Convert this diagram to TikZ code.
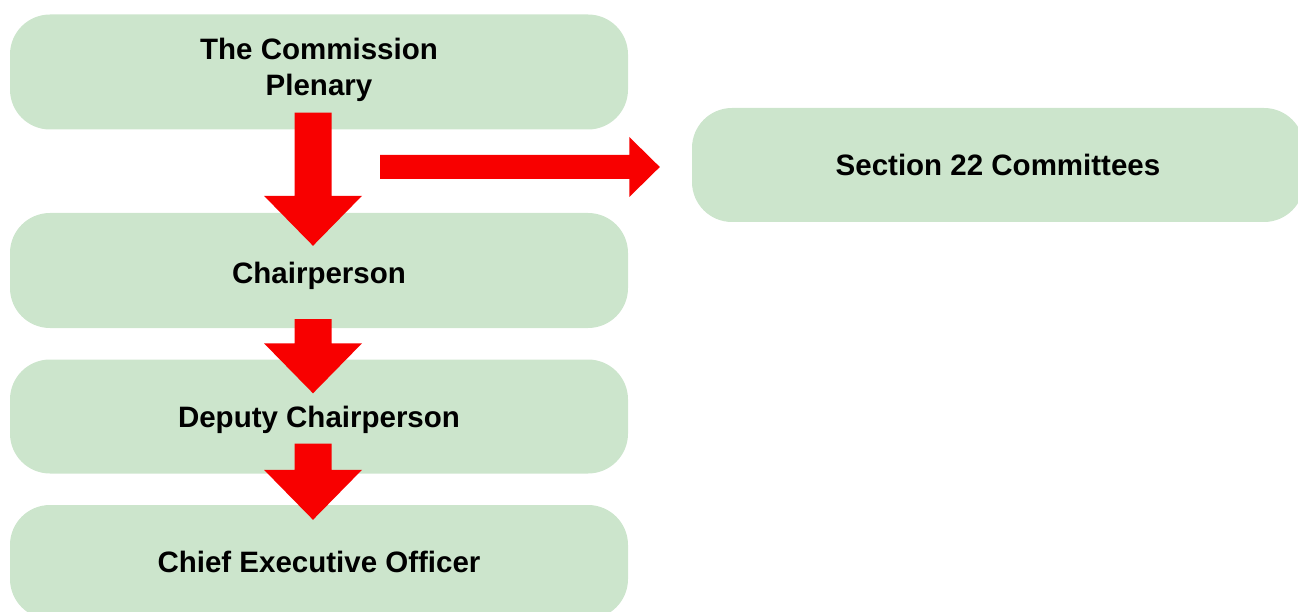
\documentclass[tikz,border=0pt]{standalone}
\usepackage{fontspec}
\setmainfont{Liberation Sans}
\usetikzlibrary{calc}
\definecolor{boxgreen}{RGB}{204,229,204}
\definecolor{arrowred}{RGB}{248,0,0}
\newcommand\blockarrowdown[2]{%
  \fill[arrowred] let \p1=(#1), \p2=(#2) in
    (\x2-18.5pt,\y1) -- (\x2+18.5pt,\y1) -- (\x2+18.5pt,\y2+50pt) --
    (\x2+49pt,\y2+50pt) -- (\x2,\y2) -- (\x2-49pt,\y2+50pt) --
    (\x2-18.5pt,\y2+50pt) -- cycle;}
\newcommand\blockarrowright[2]{%
  \fill[arrowred] let \p1=(#1), \p2=(#2) in
    (\x1,\y2+12pt) -- (\x2-30.5pt,\y2+12pt) -- (\x2-30.5pt,\y2+30pt) --
    (\x2,\y2) -- (\x2-30.5pt,\y2-30pt) -- (\x2-30.5pt,\y2-12pt) --
    (\x1,\y2-12pt) -- cycle;}
\begin{document}
\begin{tikzpicture}[x=1pt,y=-1pt,
  orgbox/.style={fill=boxgreen, draw=none, rounded corners=40pt,
    minimum width=618pt, minimum height=115pt, inner sep=0pt,
    align=center, font=\bfseries\fontsize{29.5}{36}\selectfont},
  oneline/.style={text height=21pt, text depth=0pt}]
\useasboundingbox (0,0) rectangle (1298,612);
\node[orgbox, text depth=10pt] (plenary) at (319,72) {The Commission\\Plenary};
\node[orgbox, text height=26pt, text depth=0pt] (chair) at (319,270.5) {Chairperson};
\node[orgbox, oneline, minimum height=114pt] (deputy) at (319,416.5) {Deputy Chairperson};
\node[orgbox, text height=20pt, text depth=0pt, minimum height=114pt] (ceo) at (319,562) {Chief Executive Officer};
\node[orgbox, text height=22pt, text depth=0pt, minimum height=114pt, minimum width=612pt] (committees) at (998,165) {Section 22 Committees};
% arrow end points
\coordinate (s1) at ($(plenary.south)+(-6,-17)$);
\coordinate (t1) at ($(chair.north)+(-6,33)$);
\coordinate (s2) at ($(chair.south)+(-6,-9)$);
\coordinate (t2) at ($(deputy.north)+(-6,34)$);
\coordinate (s3) at ($(deputy.south)+(-6,-30)$);
\coordinate (t3) at ($(ceo.north)+(-6,15)$);
\coordinate (s4) at ($(plenary.south)+(61,37)$);
\coordinate (t4) at ($(committees.west)+(-32,2)$);
\blockarrowdown{s1}{t1}
\blockarrowdown{s2}{t2}
\blockarrowdown{s3}{t3}
\blockarrowright{s4}{t4}
\end{tikzpicture}
\end{document}
